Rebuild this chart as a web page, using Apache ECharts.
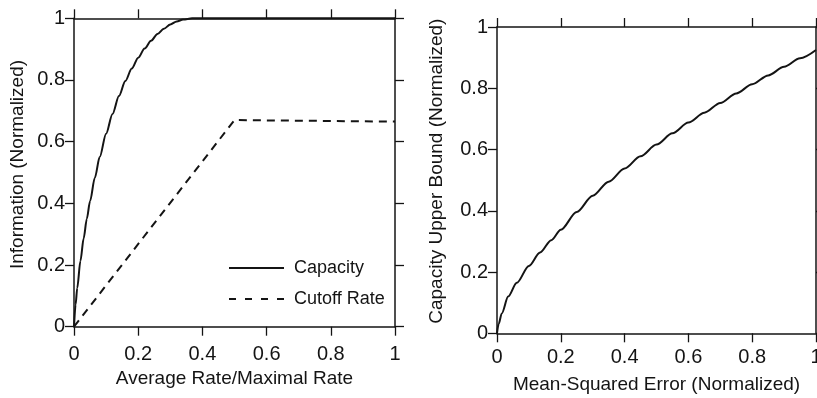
<!DOCTYPE html>
<html>
<head>
<meta charset="utf-8">
<title>Capacity and cutoff rate</title>
<script src="https://cdn.jsdelivr.net/npm/echarts@6/dist/echarts.min.js"></script>
<style>
  html, body { margin: 0; padding: 0; background: #ffffff; }
  #chart { width: 817px; height: 398px; }
</style>
</head>
<body>
<div id="chart"></div>
<script>
// Left panel: information vs. average rate / maximal rate
const capRate = [0, 0.005, 0.01, 0.02, 0.03, 0.04, 0.05, 0.065, 0.08, 0.1, 0.12, 0.14, 0.16, 0.18, 0.2, 0.22, 0.24, 0.26, 0.28, 0.3, 0.32, 0.34, 0.368, 0.5, 0.7, 1.0];
const capacity = [0, 0.072, 0.125, 0.213, 0.286, 0.35, 0.407, 0.483, 0.55, 0.626, 0.69, 0.748, 0.797, 0.837, 0.872, 0.902, 0.927, 0.949, 0.966, 0.98, 0.99, 0.996, 1, 1, 1, 1];
const cutRate = [0, 0.5, 1.0];
const cutoff = [0, 0.67, 0.665];

// Right panel: capacity upper bound vs. mean-squared error
const mse = [0, 0.005, 0.015, 0.035, 0.062, 0.1, 0.135, 0.17, 0.2, 0.25, 0.3, 0.35, 0.4, 0.45, 0.5, 0.55, 0.6, 0.65, 0.7, 0.75, 0.8, 0.85, 0.9, 0.95, 1.0];
const upperBound = [0, 0.03, 0.065, 0.12, 0.165, 0.22, 0.264, 0.304, 0.338, 0.396, 0.449, 0.495, 0.538, 0.578, 0.616, 0.653, 0.688, 0.72, 0.752, 0.783, 0.813, 0.842, 0.87, 0.898, 0.925];

// Shared tick positions and their labels
const tickValues = [0, 0.2, 0.4, 0.6, 0.8, 1];
const tickLabels = ['0', '0.2', '0.4', '0.6', '0.8', '1'];

const INK = '#141414';
const FONT = '"Liberation Sans", Arial, Helvetica, sans-serif';

function tickLabel(v) {
  const i = tickValues.findIndex(t => Math.abs(t - v) < 1e-9);
  return i >= 0 ? tickLabels[i] : '';
}

function pairs(xs, ys) {
  return xs.map((x, i) => [x, ys[i]]);
}

// One value axis; labels only on the bottom/left sides
function axis(gridIndex, position, withLabels, labelMargin, extra) {
  return Object.assign({
    type: 'value',
    gridIndex: gridIndex,
    position: position,
    min: 0,
    max: 1,
    interval: 0.2,
    axisLine: { show: true, onZero: false, lineStyle: { color: INK, width: 1.5 } },
    axisTick: { show: true, inside: false, length: 9, lineStyle: { color: INK, width: 1.3 } },
    splitLine: { show: false },
    axisLabel: {
      show: withLabels,
      margin: labelMargin,
      formatter: tickLabel,
      color: INK,
      fontFamily: FONT,
      fontSize: 20,
      showMinLabel: true,
      showMaxLabel: true
    }
  }, extra || {});
}

const hiddenSymbol = { color: 'transparent', borderWidth: 0, opacity: 0 };

const chart = echarts.init(document.getElementById('chart'), null, { renderer: 'canvas' });

chart.setOption({
  animation: false,
  backgroundColor: '#ffffff',
  grid: [
    { left: 74, top: 18.3, width: 321, height: 308.4, containLabel: false, outerBoundsMode: 'none' },
    { left: 497, top: 27, width: 319, height: 306.3, containLabel: false, outerBoundsMode: 'none' }
  ],
  xAxis: [
    axis(0, 'bottom', true, 18, {
      name: 'Average Rate/Maximal Rate',
      nameLocation: 'middle',
      nameGap: 42,
      nameTextStyle: { color: INK, fontFamily: FONT, fontSize: 19 }
    }),
    axis(0, 'top', false, 8),
    axis(1, 'bottom', true, 14, {
      name: 'Mean-Squared Error (Normalized)',
      nameLocation: 'middle',
      nameGap: 41.5,
      nameTextStyle: { color: INK, fontFamily: FONT, fontSize: 19 }
    }),
    axis(1, 'top', false, 8)
  ],
  yAxis: [
    axis(0, 'left', true, 9, {
      name: 'Information (Normalized)',
      nameLocation: 'middle',
      nameGap: 47,
      nameTextStyle: { color: INK, fontFamily: FONT, fontSize: 19, padding: [0, 0, 0, 16] }
    }),
    axis(0, 'right', false, 8),
    axis(1, 'left', true, 9, {
      name: 'Capacity Upper Bound (Normalized)',
      nameLocation: 'middle',
      nameGap: 50.5,
      nameTextStyle: { color: INK, fontFamily: FONT, fontSize: 19, padding: [0, 0, 0, 18] }
    }),
    axis(1, 'right', false, 8)
  ],
  legend: {
    orient: 'vertical',
    left: 228,
    top: 259,
    padding: 0,
    itemWidth: 55,
    itemHeight: 18,
    itemGap: 13,
    itemStyle: hiddenSymbol,
    textStyle: { color: INK, fontFamily: FONT, fontSize: 18, padding: [0, 0, 0, 5] },
    data: [
      { name: 'Capacity', itemStyle: hiddenSymbol },
      { name: 'Cutoff Rate', itemStyle: hiddenSymbol, lineStyle: { type: [7, 9] } }
    ]
  },
  series: [
    {
      name: 'Capacity',
      type: 'line',
      xAxisIndex: 0,
      yAxisIndex: 0,
      data: pairs(capRate, capacity),
      symbol: 'none',
      showSymbol: false,
      smooth: 0.3,
      smoothMonotone: 'x',
      clip: false,
      lineStyle: { color: INK, width: 2 },
      itemStyle: { color: INK }
    },
    {
      name: 'Cutoff Rate',
      type: 'line',
      xAxisIndex: 0,
      yAxisIndex: 0,
      data: pairs(cutRate, cutoff),
      symbol: 'none',
      showSymbol: false,
      clip: false,
      lineStyle: { color: INK, width: 2, type: [8, 6] },
      itemStyle: { color: INK }
    },
    {
      name: 'Upper Bound',
      type: 'line',
      xAxisIndex: 2,
      yAxisIndex: 2,
      data: pairs(mse, upperBound),
      symbol: 'none',
      showSymbol: false,
      smooth: 0.3,
      smoothMonotone: 'x',
      clip: false,
      lineStyle: { color: INK, width: 2 },
      itemStyle: { color: INK }
    }
  ]
});
</script>
</body>
</html>
